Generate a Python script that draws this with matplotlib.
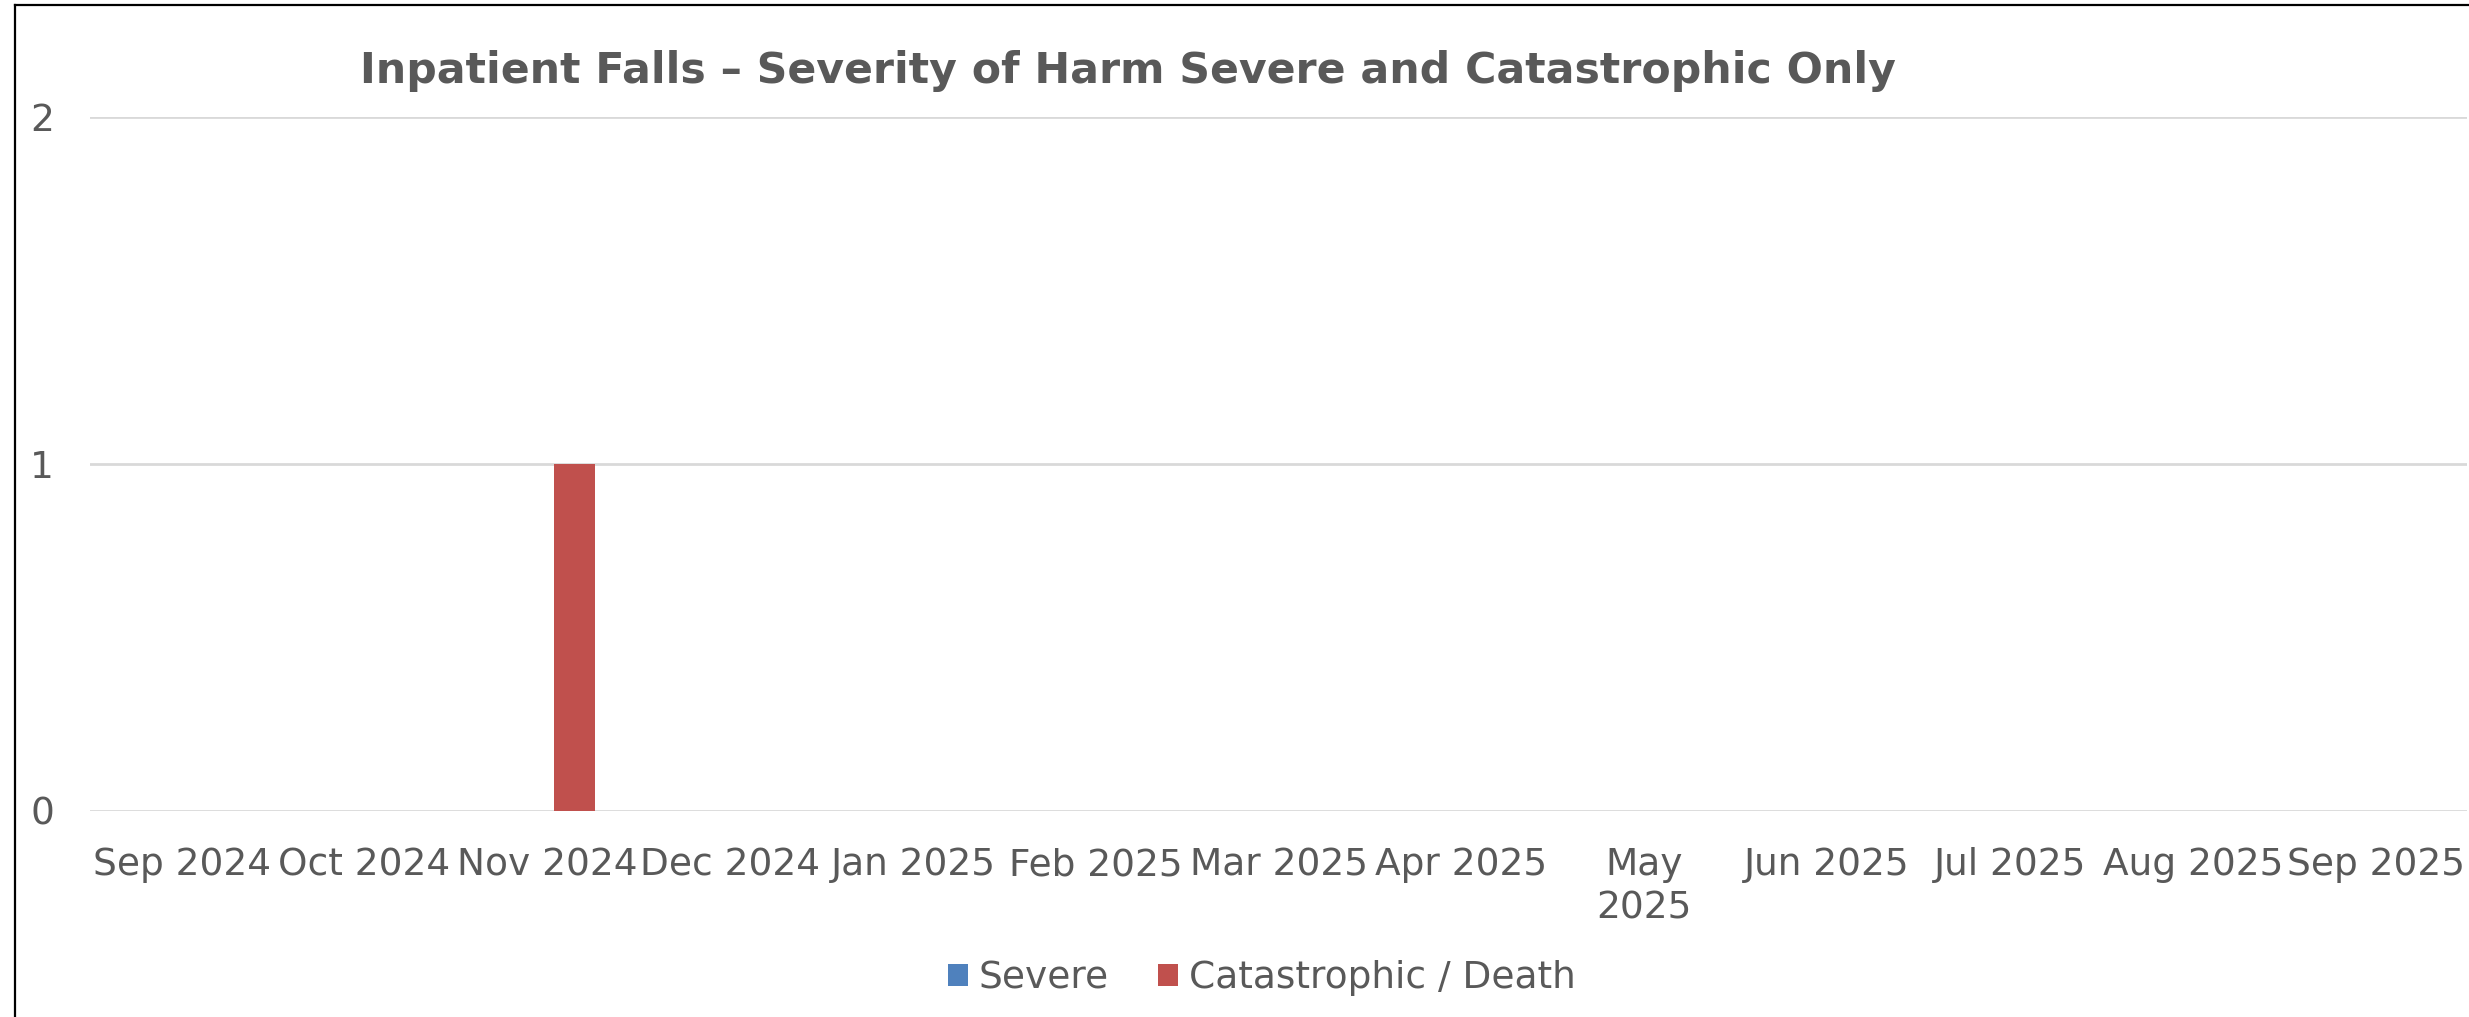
import matplotlib.pyplot as plt
import numpy as np
from matplotlib.lines import Line2D

months = ['Sep 2024', 'Oct 2024', 'Nov 2024', 'Dec 2024', 'Jan 2025', 'Feb 2025',
          'Mar 2025', 'Apr 2025', 'May\n2025', 'Jun 2025', 'Jul 2025', 'Aug 2025',
          'Sep 2025']
severe = [0, 0, 0, 0, 0, 0, 0, 0, 0, 0, 0, 0, 0]
catastrophic = [0, 0, 1, 0, 0, 0, 0, 0, 0, 0, 0, 0, 0]

text_grey = '#595959'
plt.rcParams['font.family'] = ['DejaVu Sans']

fig = plt.figure(figsize=(24.69, 10.17), dpi=100)
ax = fig.add_axes([0.0365, 0.2026, 0.9627, 0.6824])

x = np.arange(len(months))
w = 0.224
off = 0.148
ax.bar(x - off, severe, w, color='#4F81BD', label='Severe')
ax.bar(x + off, catastrophic, w, color='#C0504D', label='Catastrophic / Death')

ax.set_xlim(-0.5, len(months) - 0.5)
ax.set_ylim(0, 2)
ax.set_yticks([0, 1, 2])
ax.set_xticks(x)
ax.set_xticklabels(months, linespacing=1.25)

ax.grid(axis='y', color='#d9d9d9', linewidth=2)
ax.set_axisbelow(True)
for s in ax.spines.values():
    s.set_visible(False)
ax.tick_params(axis='both', length=0, labelsize=27, labelcolor=text_grey)
ax.tick_params(axis='x', pad=26)
ax.tick_params(axis='y', pad=26)

fig.text(0.457, 0.930, 'Inpatient Falls \u2013 Severity of Harm Severe and Catastrophic Only',
         ha='center', va='center', fontsize=30.7, fontweight='bold', color=text_grey)

leg = fig.legend(loc='center', bbox_to_anchor=(0.511, 0.038), ncol=2, frameon=False,
                 fontsize=27, handlelength=0.55, handleheight=0.55, handletextpad=0.28,
                 columnspacing=1.3, labelcolor=text_grey)

# chart frame edges
fig.add_artist(Line2D([0.0062, 0.0062], [0, 0.995], color='black', linewidth=1.6))
fig.add_artist(Line2D([0.0062, 1], [0.995, 0.995], color='black', linewidth=1.6))

fig.savefig('out.png', dpi=100)
